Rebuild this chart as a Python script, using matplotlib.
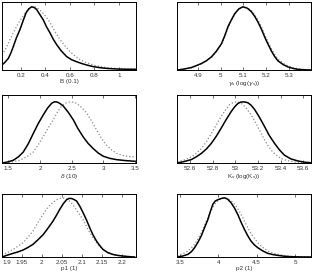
import matplotlib
matplotlib.use('Agg')
import matplotlib.pyplot as plt

plt.rcParams['font.family'] = ['Liberation Sans', 'DejaVu Sans']
plt.rcParams['mathtext.fontset'] = 'dejavusans'

# B (0.1)
b_x_solid = [0.047, 0.07, 0.099, 0.12, 0.139, 0.165, 0.194, 0.22, 0.243, 0.265, 0.289, 0.31, 0.330, 0.355, 0.384, 0.41,
             0.439, 0.465, 0.493, 0.53, 0.575, 0.615, 0.657, 0.70, 0.738, 0.79, 0.847, 0.91, 0.983, 1.06, 1.14]
b_y_solid = [0.073, 0.11, 0.17, 0.25, 0.34, 0.47, 0.59, 0.72, 0.83, 0.89, 0.92, 0.91, 0.88, 0.81, 0.73, 0.63,
             0.54, 0.45, 0.37, 0.28, 0.195, 0.15, 0.12, 0.093, 0.073, 0.05, 0.034, 0.022, 0.015, 0.011, 0.01]
b_x_dot = [0.047, 0.075, 0.099, 0.125, 0.153, 0.18, 0.208, 0.235, 0.262, 0.29, 0.317, 0.345, 0.371, 0.40, 0.426, 0.453,
           0.480, 0.507, 0.534, 0.567, 0.602, 0.643, 0.684, 0.725, 0.766, 0.805, 0.847, 0.91, 0.983, 1.06, 1.14]
b_y_dot = [0.22, 0.30, 0.39, 0.49, 0.59, 0.68, 0.76, 0.83, 0.88, 0.91, 0.92, 0.89, 0.85, 0.79, 0.73, 0.645,
           0.56, 0.48, 0.41, 0.34, 0.27, 0.205, 0.15, 0.115, 0.088, 0.067, 0.049, 0.032, 0.02, 0.013, 0.01]

# gamma_s
g_x_solid = [4.812, 4.84, 4.870, 4.89, 4.915, 4.937, 4.959, 4.98, 5.003, 5.018, 5.032, 5.047, 5.062, 5.08, 5.098, 5.117,
             5.135, 5.15, 5.164, 5.18, 5.194, 5.208, 5.223, 5.237, 5.252, 5.275, 5.296, 5.32, 5.340, 5.37, 5.399]
g_y_solid = [0.0, 0.015, 0.035, 0.06, 0.094, 0.135, 0.19, 0.27, 0.38, 0.50, 0.63, 0.73, 0.82, 0.89, 0.92, 0.90,
             0.85, 0.78, 0.70, 0.59, 0.48, 0.38, 0.28, 0.20, 0.134, 0.08, 0.045, 0.022, 0.01, 0.003, 0.0]
g_x_dot = [4.812, 4.84, 4.870, 4.89, 4.915, 4.937, 4.959, 4.98, 5.003, 5.018, 5.032, 5.047, 5.062, 5.08, 5.100, 5.119,
           5.137, 5.152, 5.166, 5.182, 5.196, 5.21, 5.225, 5.24, 5.255, 5.278, 5.300, 5.323, 5.345, 5.37, 5.399]
g_y_dot = [0.0, 0.012, 0.03, 0.055, 0.09, 0.13, 0.185, 0.26, 0.37, 0.48, 0.61, 0.72, 0.81, 0.885, 0.92, 0.905,
           0.86, 0.79, 0.72, 0.61, 0.50, 0.40, 0.30, 0.215, 0.15, 0.095, 0.055, 0.03, 0.015, 0.005, 0.0]

# delta
d_x_solid = [1.40, 1.49, 1.578, 1.66, 1.736, 1.815, 1.894, 1.97, 2.051, 2.12, 2.184, 2.225, 2.263, 2.31, 2.367, 2.445,
             2.525, 2.60, 2.682, 2.76, 2.840, 2.92, 2.998, 3.10, 3.209, 3.35, 3.498]
d_y_solid = [0.0, 0.015, 0.04, 0.09, 0.16, 0.28, 0.43, 0.57, 0.70, 0.80, 0.87, 0.89, 0.89, 0.87, 0.83, 0.74,
             0.63, 0.50, 0.38, 0.285, 0.21, 0.145, 0.099, 0.068, 0.049, 0.035, 0.025]
d_x_dot = [1.40, 1.55, 1.684, 1.79, 1.894, 1.97, 2.051, 2.13, 2.209, 2.275, 2.341, 2.41, 2.473, 2.525, 2.578, 2.655,
           2.736, 2.815, 2.894, 2.97, 3.051, 3.13, 3.209, 3.29, 3.367, 3.43, 3.498]
d_y_dot = [0.0, 0.015, 0.04, 0.09, 0.16, 0.26, 0.384, 0.51, 0.63, 0.74, 0.83, 0.875, 0.89, 0.885, 0.87, 0.81,
           0.73, 0.61, 0.48, 0.36, 0.26, 0.19, 0.14, 0.115, 0.099, 0.093, 0.089]

# K_s
k_x_solid = [52.488, 52.55, 52.612, 52.655, 52.700, 52.745, 52.788, 52.832, 52.876, 52.92, 52.964, 52.995, 53.023,
             53.045, 53.067, 53.09, 53.111, 53.14, 53.170, 53.215, 53.258, 53.30, 53.346, 53.39, 53.434, 53.49,
             53.552, 53.61, 53.663]
k_y_solid = [0.0, 0.022, 0.05, 0.09, 0.14, 0.205, 0.286, 0.39, 0.51, 0.635, 0.75, 0.82, 0.867,
             0.885, 0.89, 0.886, 0.877, 0.84, 0.78, 0.66, 0.53, 0.40, 0.286, 0.19, 0.113, 0.06,
             0.03, 0.012, 0.005]
k_x_dot = [52.488, 52.55, 52.612, 52.655, 52.700, 52.745, 52.788, 52.832, 52.876, 52.915, 52.950, 52.98, 53.008,
           53.037, 53.067, 53.10, 53.140, 53.185, 53.228, 53.27, 53.316, 53.36, 53.404, 53.46, 53.522, 53.59, 53.663]
k_y_dot = [0.015, 0.045, 0.089, 0.14, 0.21, 0.31, 0.43, 0.555, 0.68, 0.775, 0.85, 0.88, 0.89,
           0.88, 0.85, 0.79, 0.70, 0.57, 0.43, 0.30, 0.187, 0.115, 0.064, 0.035, 0.015, 0.005, 0.0]

# p1
p1_x_solid = [1.9, 1.914, 1.928, 1.94, 1.953, 1.965, 1.978, 1.99, 2.003, 2.015, 2.028, 2.037, 2.045, 2.054, 2.062,
              2.068, 2.074, 2.08, 2.087, 2.095, 2.103, 2.112, 2.12, 2.128, 2.137, 2.145, 2.153, 2.165, 2.178, 2.19,
              2.203, 2.218, 2.2325]
p1_y_solid = [0.0, 0.03, 0.058, 0.08, 0.11, 0.15, 0.2, 0.27, 0.35, 0.45, 0.565, 0.66, 0.75, 0.84, 0.90,
              0.92, 0.92, 0.905, 0.88, 0.80, 0.70, 0.58, 0.46, 0.35, 0.25, 0.18, 0.12, 0.07, 0.04, 0.025,
              0.015, 0.006, 0.0]
p1_x_dot = [1.9, 1.914, 1.928, 1.94, 1.953, 1.965, 1.978, 1.99, 2.003, 2.015, 2.028, 2.037, 2.045, 2.054, 2.062,
            2.07, 2.078, 2.09, 2.103, 2.115, 2.128, 2.14, 2.153, 2.165, 2.178, 2.2, 2.2325]
p1_y_dot = [0.026, 0.07, 0.12, 0.17, 0.225, 0.31, 0.41, 0.54, 0.67, 0.78, 0.86, 0.90, 0.92, 0.925, 0.91,
            0.875, 0.82, 0.71, 0.59, 0.44, 0.30, 0.20, 0.12, 0.07, 0.04, 0.015, 0.0]

# p2
p2_x_solid = [3.465, 3.535, 3.604, 3.65, 3.691, 3.735, 3.777, 3.82, 3.864, 3.897, 3.929, 3.96, 3.994, 4.04, 4.080,
              4.12, 4.167, 4.21, 4.253, 4.295, 4.340, 4.383, 4.426, 4.47, 4.513, 4.58, 4.643, 4.71, 4.773, 4.86,
              4.946, 5.07, 5.206]
p2_y_solid = [0.0, 0.015, 0.042, 0.085, 0.147, 0.235, 0.33, 0.46, 0.59, 0.72, 0.83, 0.88, 0.90, 0.92, 0.93,
              0.91, 0.85, 0.77, 0.67, 0.55, 0.435, 0.335, 0.25, 0.19, 0.147, 0.095, 0.058, 0.038, 0.026, 0.012,
              0.005, 0.001, 0.0]
p2_x_dot = [3.465, 3.535, 3.604, 3.65, 3.691, 3.735, 3.777, 3.82, 3.864, 3.907, 3.951, 4.0, 4.058, 4.10, 4.145,
            4.19, 4.231, 4.275, 4.318, 4.36, 4.405, 4.46, 4.513, 4.58, 4.643, 4.71, 4.773, 4.86, 4.946, 5.07, 5.206]
p2_y_dot = [0.016, 0.05, 0.094, 0.145, 0.2, 0.285, 0.38, 0.50, 0.62, 0.735, 0.83, 0.895, 0.93, 0.925, 0.90,
            0.86, 0.80, 0.715, 0.62, 0.515, 0.41, 0.31, 0.225, 0.15, 0.094, 0.062, 0.042, 0.022, 0.01, 0.003, 0.0]

panels = [
    (b_x_solid, b_y_solid, b_x_dot, b_y_dot, (0.047, 1.141), [0.2, 0.4, 0.6, 0.8, 1], ['0.2', '0.4', '0.6', '0.8', '1'], 'B (0.1)'),
    (g_x_solid, g_y_solid, g_x_dot, g_y_dot, (4.8075, 5.398), [4.9, 5.0, 5.1, 5.2, 5.3], ['4.9', '5', '5.1', '5.2', '5.3'], r'$\gamma_s$ (log($\gamma_s$))'),
    (d_x_solid, d_y_solid, d_x_dot, d_y_dot, (1.40, 3.516), [1.5, 2, 2.5, 3, 3.5], ['1.5', '2', '2.5', '3', '3.5'], r'$\delta$ (10)'),
    (k_x_solid, k_y_solid, k_x_dot, k_y_dot, (52.485, 53.668), [52.6, 52.8, 53.0, 53.2, 53.4, 53.6], ['52.6', '52.8', '53', '53.2', '53.4', '53.6'], r'K$_s$ (log(K$_s$))'),
    (p1_x_solid, p1_y_solid, p1_x_dot, p1_y_dot, (1.9, 2.236), [1.9, 1.95, 2.0, 2.05, 2.1, 2.15, 2.2], ['1.9', '1.95', '2', '2.05', '2.1', '2.15', '2.2'], 'p1 (1)'),
    (p2_x_solid, p2_y_solid, p2_x_dot, p2_y_dot, (3.461, 5.208), [3.5, 4, 4.5, 5], ['3.5', '4', '4.5', '5'], 'p2 (1)'),
]

W, H = 316, 273
col_left = [2, 177]
row_top_bottom = [(2, 70), (95, 163), (194, 257)]

fig = plt.figure(figsize=(W / 100, H / 100), dpi=100)

for i, (xs, ys, xd, yd, xlim, ticks, labels, xlabel) in enumerate(panels):
    r, c = divmod(i, 2)
    top, bot = row_top_bottom[r]
    ax = fig.add_axes([col_left[c] / W, 1 - bot / H, 134 / W, (bot - top) / H])
    ax.plot(xd, yd, color='#8a8a8a', linestyle=':', linewidth=0.9)
    ax.plot(xs, ys, color='black', linewidth=1.1)
    ax.set_xlim(*xlim)
    ax.set_ylim(0, 0.99)
    ax.set_xticks(ticks)
    ax.set_xticklabels(labels)
    ax.set_yticks([])
    ax.tick_params(axis='x', direction='in', top=True, length=2, width=0.5,
                   labelsize=4.5, pad=2, colors='#333333')
    ax.set_xlabel(xlabel, fontsize=4.5, labelpad=1, color='#333333')
    for s in ax.spines.values():
        s.set_linewidth(0.7)
    # first label would be cut at the figure edge
    if xlim[0] == ticks[0]:
        ax.get_xticklabels()[0].set_ha('left')

fig.savefig('out.png', dpi=100)
